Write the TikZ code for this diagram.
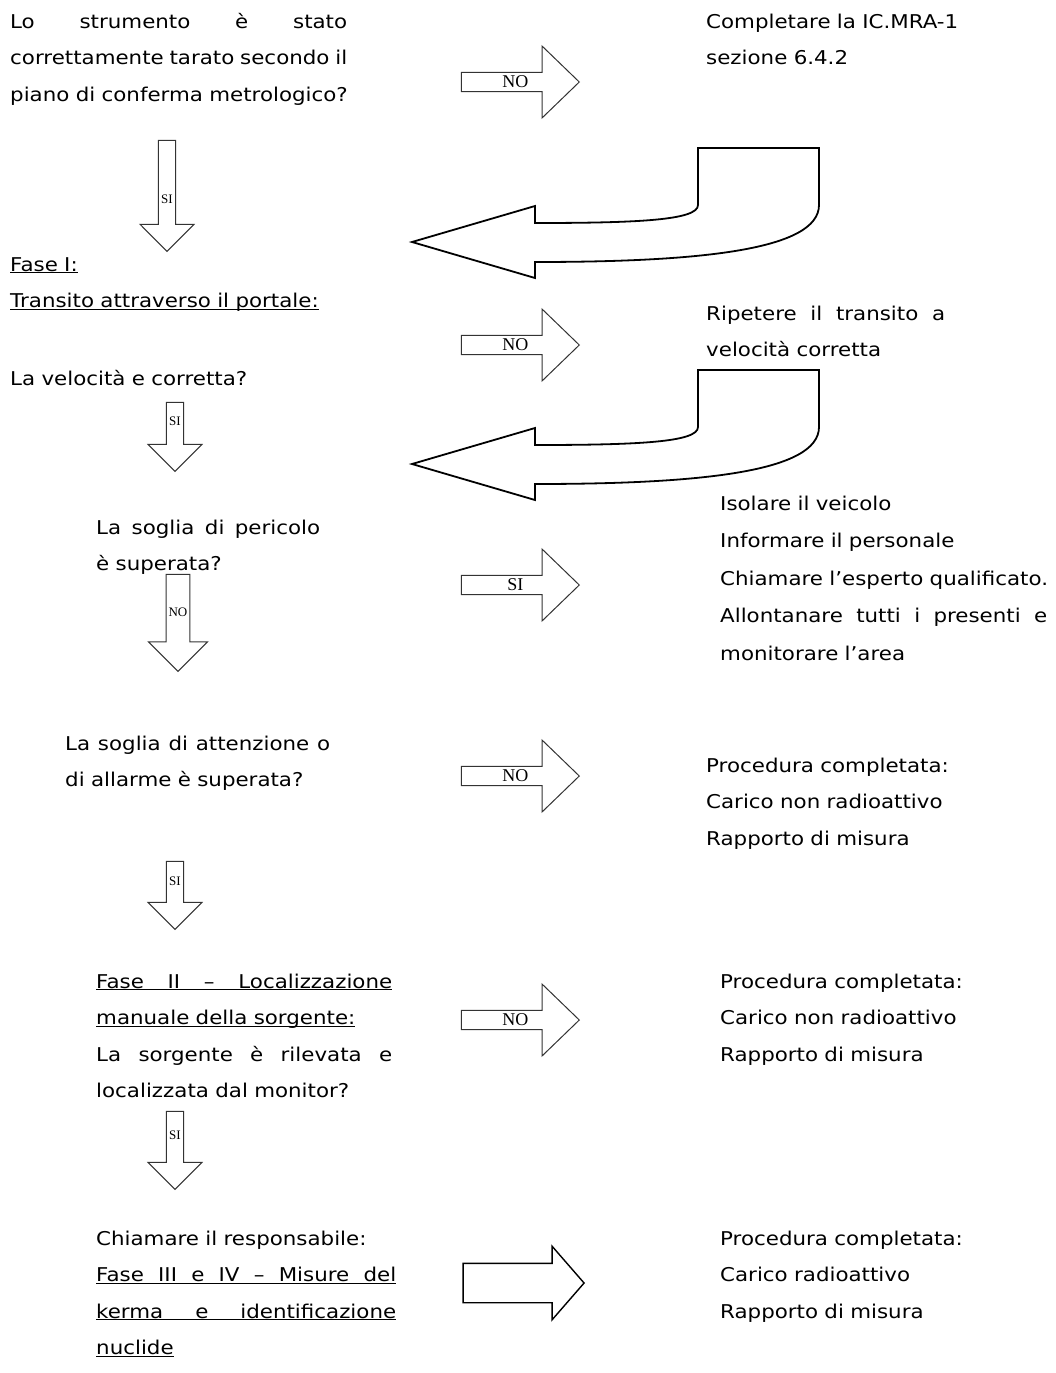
\documentclass[tikz,border=0pt]{standalone}
\usepackage{fontspec}
\setmainfont{DejaVu Sans}[FakeStretch=1.125]
\newfontfamily\frecciafont{Liberation Serif}
\usetikzlibrary{shapes.arrows}

\newcommand{\riga}[2]{{\spaceskip=0pt\xspaceskip=0pt\makebox[#1][s]{#2}}}
\newcommand{\sott}[1]{\underline{\smash{#1}}}

\tikzset
{
    testo/.style = {anchor=base west, inner sep=0pt, align=left, text width=#1, font=\fontsize{19}{36.6}\selectfont},
    frecciadx/.style = {single arrow, draw=black!80, line width=1pt, anchor=tip, minimum height=118pt, minimum width=72pt, single arrow head extend=18pt, single arrow tip angle=88, inner sep=0pt, font=\frecciafont\fontsize{18}{18}\selectfont},
    frecciagiu/.style = {single arrow, draw=black!80, line width=1pt, anchor=tip, shape border rotate=270, minimum width=54pt, single arrow head extend=13.5pt, single arrow tip angle=90, inner sep=0pt, font=\frecciafont\fontsize{13}{13}\selectfont},
    bordoritorno/.style = {draw=black, line width=1.8pt, line join=miter},
    pics/ritorno/.style = {code={
        \draw[bordoritorno] (698,148) -- (819,148) -- (819,205) .. controls (819,250) and (700,262) .. (535,262) -- (535,278) -- (412,242) -- (535,206) -- (535,223) .. controls (640,223) and (698,220) .. (698,205) -- cycle;
    }}
}

\begin{document}
\begin{tikzpicture}[x=1pt, y=-1pt]
	\useasboundingbox (0,0) rectangle (1056,1373);
	% colonna delle domande
	\node[testo=400pt] (taratura) at (10,28) {\riga{337pt}{Lo strumento è stato}\\ \riga{337pt}{correttamente tarato secondo il}\\ piano di conferma metrologico?};
	\node[testo=400pt] (fase1) at (10,271) {\sott{Fase I:}\\ \sott{Transito attraverso il portale:}};
	\node[testo=400pt] (velocita) at (10,385) {La velocità e corretta?};
	\node[testo=400pt] (pericolo) at (96,534) {\riga{224pt}{La soglia di pericolo}\\ è superata?};
	\node[testo=400pt] (attenzione) at (65,750) {\riga{265pt}{La soglia di attenzione o}\\ di allarme è superata?};
	\node[testo=400pt] (fase2) at (96,988) {\sott{\riga{296pt}{Fase II – Localizzazione}}\\ \sott{manuale della sorgente:}\\ \riga{296pt}{La sorgente è rilevata e}\\ localizzata dal monitor?};
	\node[testo=400pt] (responsabile) at (96,1245) {Chiamare il responsabile:\\ \sott{\riga{300pt}{Fase III e IV – Misure del}}\\ \sott{\riga{300pt}{kerma e identificazione}}\\ \sott{nuclide}};
	% colonna delle risposte
	\node[testo=340pt] (completare) at (706,28) {Completare la IC.MRA-1\\ sezione 6.4.2};
	\node[testo=340pt] (ripetere) at (706,320) {\riga{239pt}{Ripetere il transito a}\\ velocità corretta};
	\node[testo=340pt, font=\fontsize{19}{37.6}\selectfont] (azioni) at (720,510) {Isolare il veicolo\\ Informare il personale\\ Chiamare l’esperto qualificato.\\ \riga{327pt}{Allontanare tutti i presenti e}\\ monitorare l’area};
	\node[testo=340pt] (esito1) at (706,772) {Procedura completata:\\ Carico non radioattivo\\ Rapporto di misura};
	\node[testo=340pt] (esito2) at (720,988) {Procedura completata:\\ Carico non radioattivo\\ Rapporto di misura};
	\node[testo=340pt] (esito3) at (720,1245) {Procedura completata:\\ Carico radioattivo\\ Rapporto di misura};
	% frecce
	\node[frecciadx] (no1) at (580,82) {NO};
	\node[frecciagiu, minimum height=111pt, text height=25pt] (si1) at (167,252) {SI};
	\node[frecciadx] (no2) at (580,345) {NO};
	\node[frecciagiu, minimum height=69pt, text depth=22pt] (si2) at (175,472) {SI};
	\node[frecciagiu, minimum height=97pt, minimum width=59pt, single arrow head extend=14.5pt, text depth=10pt] (no3) at (178,672) {NO};
	\node[frecciadx] (si3) at (580,585) {SI};
	\node[frecciadx] (no4) at (580,776) {NO};
	\node[frecciagiu, minimum height=68pt, text depth=20pt] (si4) at (175,930) {SI};
	\node[frecciadx] (no5) at (580,1020) {NO};
	\node[frecciagiu, minimum height=78pt, text depth=22pt] (si5) at (175,1190) {SI};
	\node[frecciadx, draw=black, line width=1.4pt, minimum height=121pt, single arrow head extend=17pt, single arrow tip angle=98, text height=19pt, text depth=19pt] (avanti) at (585,1283) {};
	% frecce di ritorno
	\pic at (0,0) {ritorno};
	\pic at (0,222) {ritorno};
\end{tikzpicture}
\end{document}
